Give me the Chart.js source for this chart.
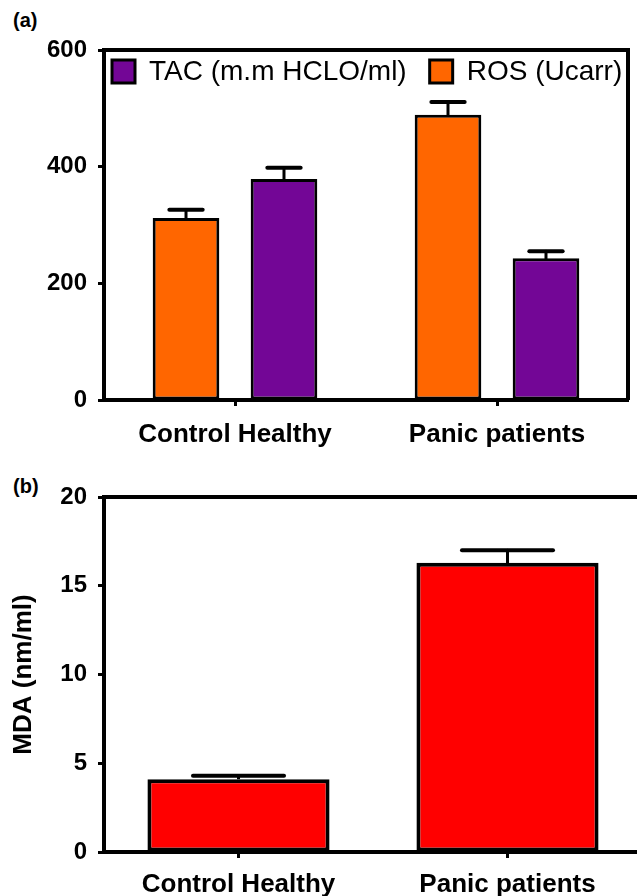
<!DOCTYPE html>
<html>
<head>
<meta charset="utf-8">
<script src="https://cdn.jsdelivr.net/npm/chart.js@4.4.1/dist/chart.umd.min.js"></script>
<style>
  html, body { margin: 0; padding: 0; background: #fff; overflow: hidden; }
  body { width: 637px; height: 896px; position: relative; }
  canvas { position: absolute; left: 0; }
  .panel { position: absolute; left: 13px; font: bold 20px 'Liberation Sans', Arial, sans-serif; line-height: 20px; }
</style>
</head>
<body>
<div class="panel" style="top:10px">(a)</div>
<div class="panel" style="top:476px">(b)</div>
<canvas id="chartA" width="637" height="460" style="top:0"></canvas>
<canvas id="chartB" width="650" height="436" style="top:460px"></canvas>
<script>
// values
const groups = ['Control Healthy', 'Panic patients'];
const rosValues = [312, 489];
const rosErrors = [14, 22];
const tacValues = [379, 243];
const tacErrors = [19, 12];
const mdaValues = [4.1, 16.3];
const mdaErrors = [0.2, 0.7];

const ORANGE = '#ff6600';
const PURPLE = '#730696';
const RED = '#ff0000';

Chart.defaults.font.family = "'Liberation Sans', Arial, sans-serif";
Chart.defaults.color = '#000';

// upper error bars (mean + SE), drawn from the bar tops
const errorBars = {
  id: 'errorBars',
  afterDatasetsDraw(chart, args, opts) {
    const ctx = chart.ctx;
    const yScale = chart.scales.y;
    ctx.save();
    ctx.strokeStyle = '#000';
    chart.data.datasets.forEach((ds, i) => {
      if (!ds.errors) return;
      chart.getDatasetMeta(i).data.forEach((bar, j) => {
        const top = yScale.getPixelForValue(ds.data[j] + ds.errors[j]);
        const half = bar.width * opts.cap / 2;
        ctx.lineWidth = opts.stem;
        ctx.beginPath();
        ctx.moveTo(bar.x, bar.y);
        ctx.lineTo(bar.x, top);
        ctx.stroke();
        ctx.lineWidth = opts.capWidth;
        ctx.lineCap = 'round';
        ctx.beginPath();
        ctx.moveTo(bar.x - half, top);
        ctx.lineTo(bar.x + half, top);
        ctx.stroke();
      });
    });
    ctx.restore();
  }
};

// top and right edges of the plot box
const frame = {
  id: 'frame',
  afterDraw(chart, args, opts) {
    const { ctx, chartArea: a } = chart;
    ctx.save();
    ctx.strokeStyle = '#000';
    ctx.lineWidth = opts.width;
    ctx.beginPath();
    ctx.moveTo(a.left - 2, a.top);
    ctx.lineTo(a.right, a.top);
    ctx.lineTo(a.right, a.bottom);
    ctx.stroke();
    ctx.restore();
  }
};

// legend drawn inside the plot, top left
const insideLegend = {
  id: 'insideLegend',
  afterDraw(chart, args, opts) {
    if (!opts.order) return;
    const { ctx, chartArea: a } = chart;
    ctx.save();
    ctx.font = opts.font;
    ctx.textBaseline = 'middle';
    let x = a.left + 8;
    const cy = a.top + 21;
    opts.order.forEach(i => {
      const ds = chart.data.datasets[i];
      ctx.fillStyle = ds.backgroundColor;
      ctx.fillRect(x, cy - 11, 23, 23);
      ctx.lineWidth = 3;
      ctx.strokeStyle = '#000';
      ctx.strokeRect(x, cy - 11, 23, 23);
      ctx.fillStyle = '#000';
      ctx.fillText(ds.label, x + 37, cy + 1);
      x += 37 + ctx.measureText(ds.label).width + 23;
    });
    ctx.restore();
  }
};

new Chart(document.getElementById('chartA'), {
  type: 'bar',
  data: {
    labels: groups,
    datasets: [
      { label: 'ROS (Ucarr)', data: rosValues, errors: rosErrors, backgroundColor: ORANGE,
        borderColor: '#000', borderWidth: 3, borderSkipped: false },
      { label: 'TAC (m.m HCLO/ml)', data: tacValues, errors: tacErrors, backgroundColor: PURPLE,
        borderColor: '#000', borderWidth: 3, borderSkipped: false }
    ]
  },
  plugins: [errorBars, frame, insideLegend],
  options: {
    responsive: false,
    animation: false,
    layout: { padding: { top: 50, right: 9, left: 0, bottom: 0 } },
    categoryPercentage: 0.748,
    barPercentage: 0.68,
    plugins: {
      legend: { display: false },
      tooltip: { enabled: false },
      errorBars: { cap: 0.5, stem: 3, capWidth: 4 },
      frame: { width: 4 },
      insideLegend: { order: [1, 0], font: "28px 'Liberation Sans', Arial, sans-serif" }
    },
    scales: {
      x: {
        border: { color: '#000', width: 4 },
        grid: { offset: false, drawOnChartArea: false, tickLength: 6, tickWidth: 3, tickColor: '#000' },
        ticks: { font: { size: 26, weight: 'bold' }, padding: 13, color: '#000' },
        afterFit(scale) { scale.height = 60; }
      },
      y: {
        min: 0, max: 600,
        border: { color: '#000', width: 4 },
        grid: { drawOnChartArea: false, tickLength: 6, tickWidth: 3, tickColor: '#000' },
        ticks: { stepSize: 200, font: { size: 24, weight: 'bold' }, padding: 11, color: '#000' },
        afterFit(scale) { scale.width = 104; }
      }
    }
  }
});

new Chart(document.getElementById('chartB'), {
  type: 'bar',
  data: {
    labels: groups,
    datasets: [
      { label: 'MDA (nm/ml)', data: mdaValues, errors: mdaErrors, backgroundColor: RED,
        borderColor: '#000', borderWidth: 4, borderSkipped: false }
    ]
  },
  plugins: [errorBars, frame],
  options: {
    responsive: false,
    animation: false,
    layout: { padding: { top: 37, right: 8, left: 0, bottom: 0 } },
    categoryPercentage: 1,
    barPercentage: 0.677,
    plugins: {
      legend: { display: false },
      tooltip: { enabled: false },
      errorBars: { cap: 0.5, stem: 3, capWidth: 4 },
      frame: { width: 4 }
    },
    scales: {
      x: {
        border: { color: '#000', width: 4 },
        grid: { offset: false, drawOnChartArea: false, tickLength: 6, tickWidth: 3, tickColor: '#000' },
        ticks: { font: { size: 26, weight: 'bold' }, padding: 11, color: '#000' },
        afterFit(scale) { scale.height = 44; }
      },
      y: {
        min: 0, max: 20,
        border: { color: '#000', width: 4 },
        grid: { drawOnChartArea: false, tickLength: 6, tickWidth: 3, tickColor: '#000' },
        ticks: { stepSize: 5, font: { size: 24, weight: 'bold' }, padding: 11, color: '#000' },
        title: { display: true, text: 'MDA (nm/ml)', font: { size: 26, weight: 'bold' }, color: '#000',
          padding: { top: 8, bottom: 0 } },
        afterFit(scale) { scale.width = 104; }
      }
    }
  }
});
</script>
</body>
</html>
